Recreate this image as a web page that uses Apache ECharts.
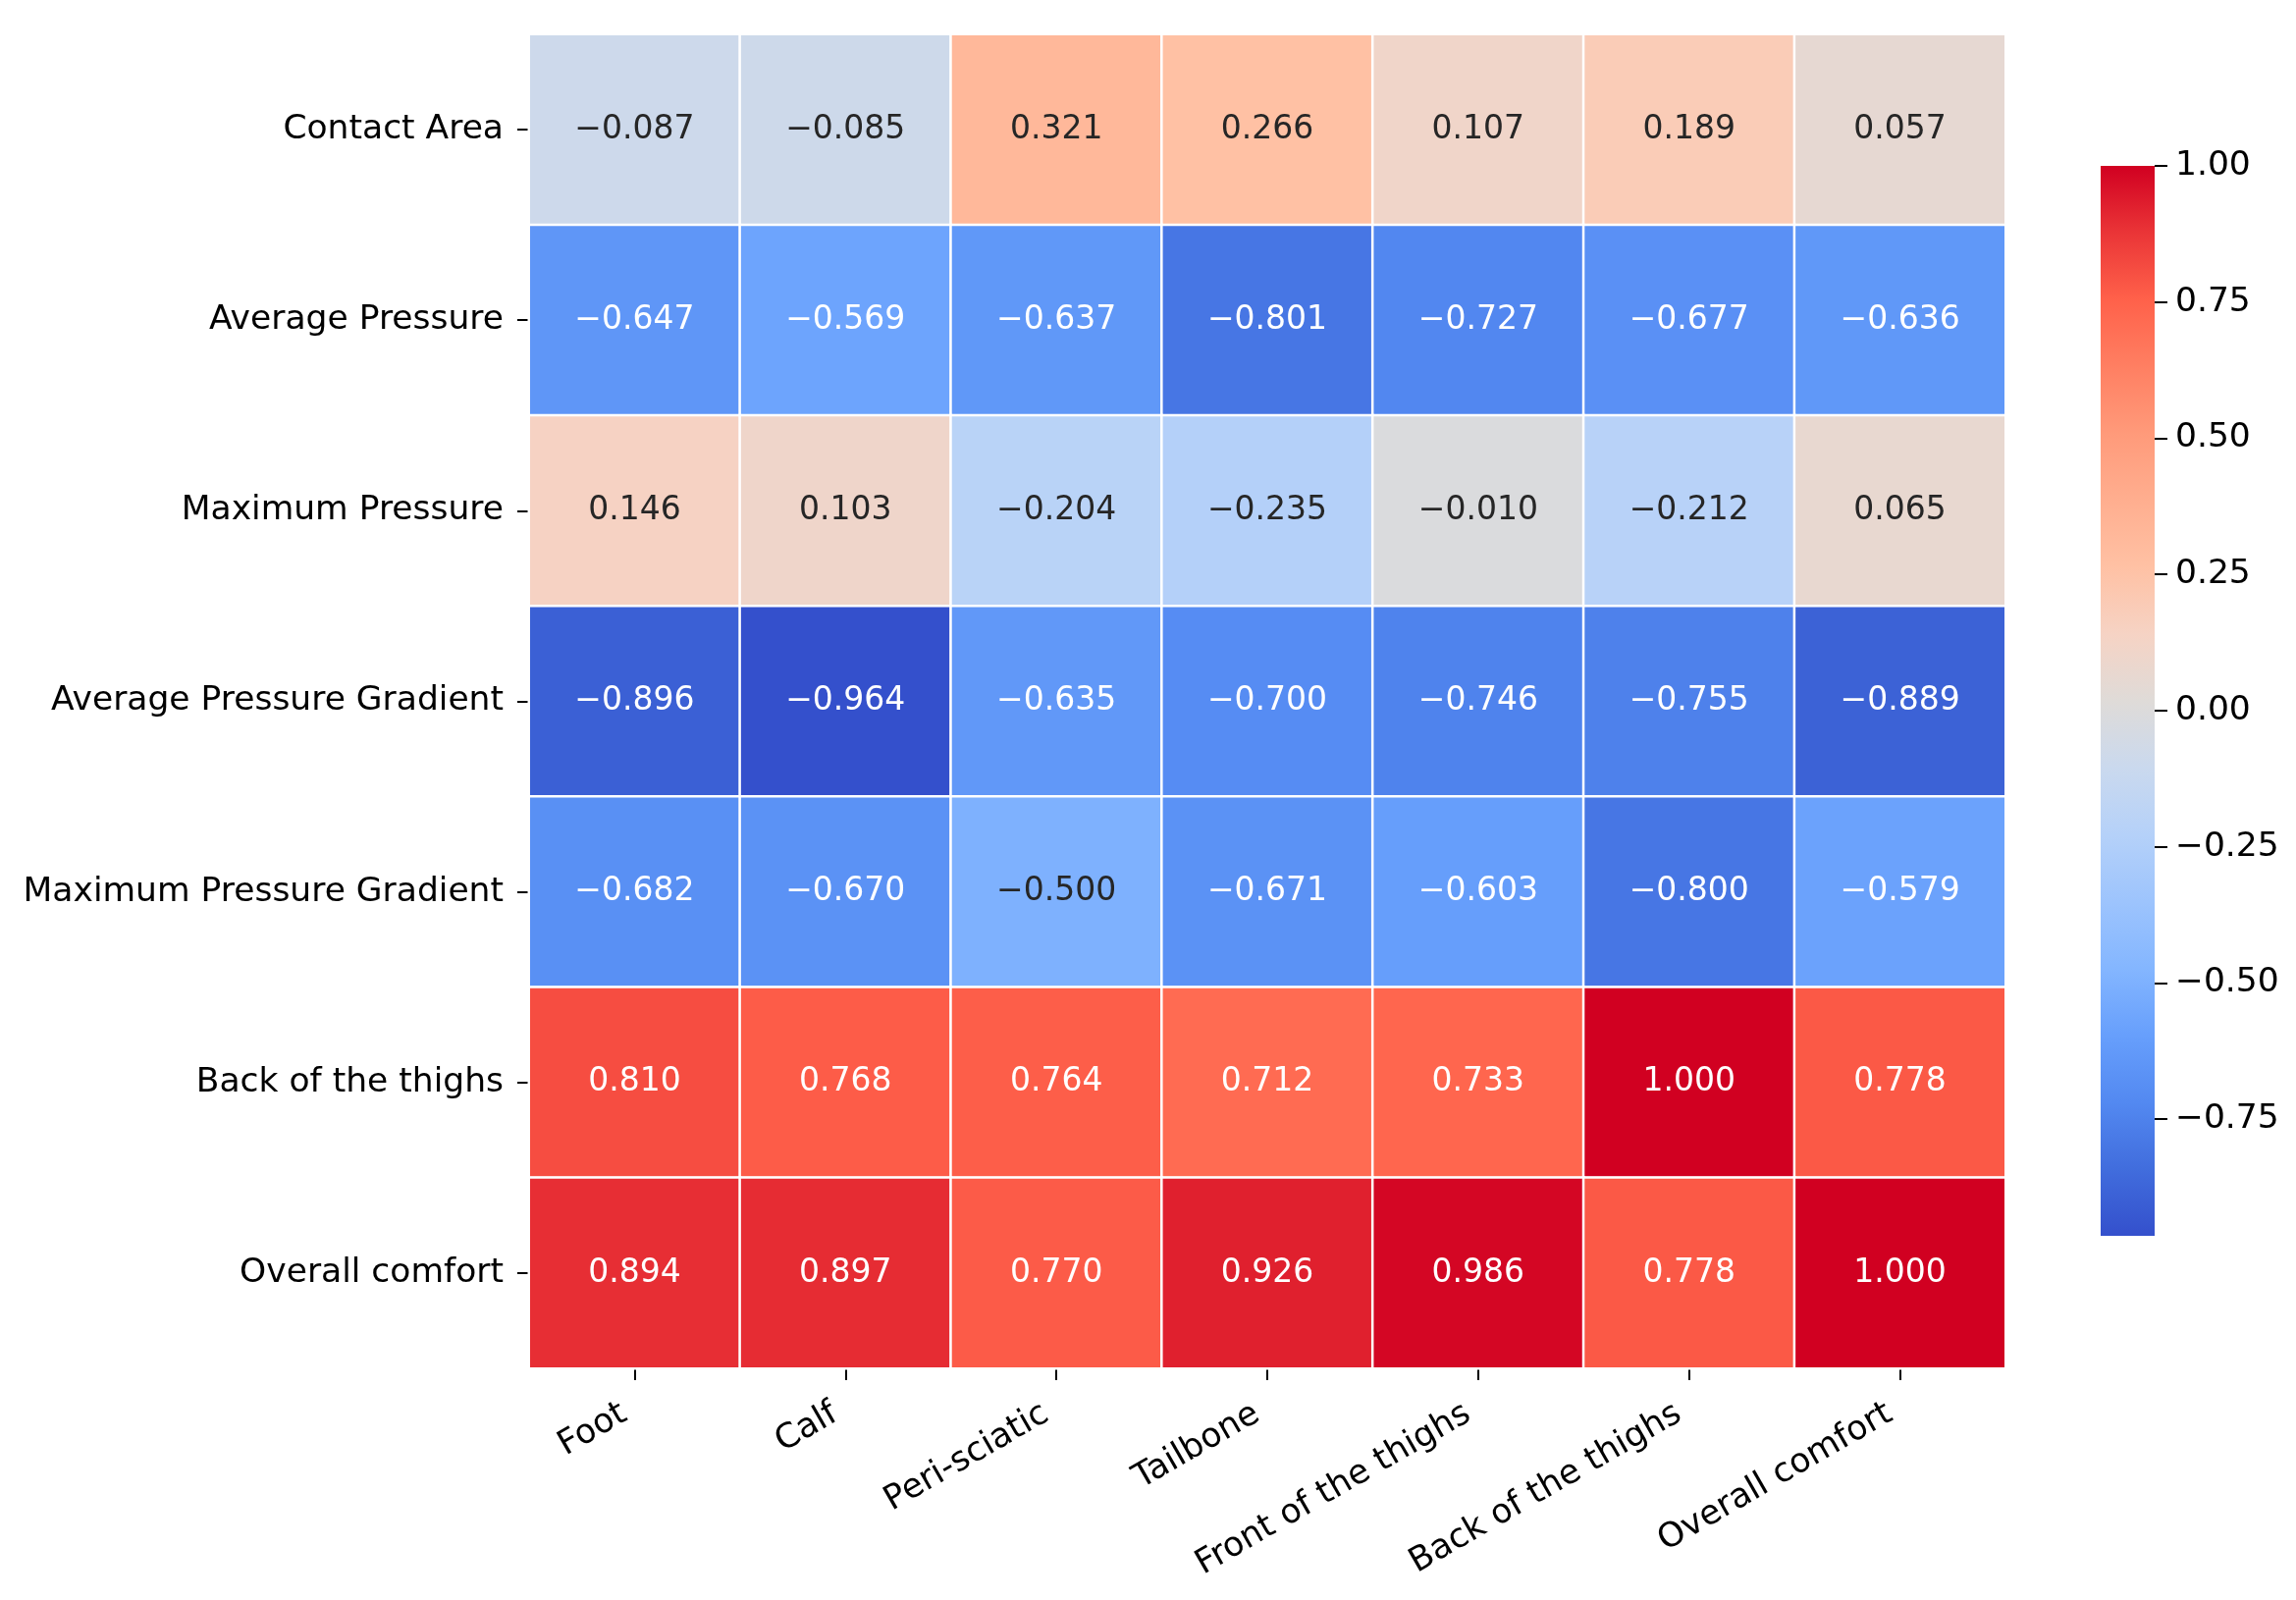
<!DOCTYPE html>
<html>
<head>
<meta charset="utf-8">
<script src="https://cdn.jsdelivr.net/npm/echarts@6/dist/echarts.min.js"></script>
<style>
html,body{margin:0;padding:0;background:#fff;}
#chart{width:2339px;height:1630px;}
</style>
</head>
<body>
<div id="chart"></div>
<script>
const colLabels = ['Foot','Calf','Peri-sciatic','Tailbone','Front of the thighs','Back of the thighs','Overall comfort'];
const rowLabels = ['Contact Area','Average Pressure','Maximum Pressure','Average Pressure Gradient','Maximum Pressure Gradient','Back of the thighs','Overall comfort'];

const rowContactArea     = [-0.087,-0.085, 0.321, 0.266, 0.107, 0.189, 0.057];
const rowAvgPressure     = [-0.647,-0.569,-0.637,-0.801,-0.727,-0.677,-0.636];
const rowMaxPressure     = [ 0.146, 0.103,-0.204,-0.235,-0.010,-0.212, 0.065];
const rowAvgGradient     = [-0.896,-0.964,-0.635,-0.700,-0.746,-0.755,-0.889];
const rowMaxGradient     = [-0.682,-0.670,-0.500,-0.671,-0.603,-0.800,-0.579];
const rowBackThighs      = [ 0.810, 0.768, 0.764, 0.712, 0.733, 1.000, 0.778];
const rowOverallComfort  = [ 0.894, 0.897, 0.770, 0.926, 0.986, 0.778, 1.000];

const colorbarTicks = [-0.75,-0.5,-0.25,0,0.25,0.5,0.75,1.0];

// colour ramp (low -> high), evenly spaced
const rampColors = ['#3450cc','#416ddd','#5389f1','#679ffc','#84b6ff','#9dc4fd','#b5d1f9','#cad9ee',
                    '#dfdbd8','#f6d3c4','#ffc1a4','#ffae8f','#ff9a7a','#ff7f62','#ff614a','#ea3537','#d10021'];

const matrix = [rowContactArea,rowAvgPressure,rowMaxPressure,rowAvgGradient,rowMaxGradient,rowBackThighs,rowOverallComfort];
const vmin = Math.min(...matrix.flat());
const vmax = Math.max(...matrix.flat());

const data = [];
matrix.forEach((row, r) => {
  row.forEach((v, c) => {
    const dark = (v <= -0.53 || v >= 0.5);
    data.push({ value: [c, r, v], label: { color: dark ? '#ffffff' : '#262626' } });
  });
});

const n = rampColors.length;
const barGradient = {
  type: 'linear', x: 0, y: 0, x2: 0, y2: 1,
  colorStops: rampColors.slice().reverse().map((c, i) => ({ offset: i / (n - 1), color: c }))
};

const fmtMinus = s => s.replace('-', '\u2212');
const FONT = 'DejaVu Sans';
const FS = 34.5;
const FS_ANN = 33;

const chart = echarts.init(document.getElementById('chart'), null, {renderer:'canvas'});
chart.setOption({
  backgroundColor: '#ffffff',
  animation: false,
  textStyle: { fontFamily: FONT },
  grid: [
    { left: 539, top: 35, width: 1504, height: 1359 },
    { left: 2140, top: 169, width: 55, height: 1090, show: true, backgroundColor: barGradient, borderWidth: 0 }
  ],
  xAxis: [
    {
      type: 'category', data: colLabels, gridIndex: 0, position: 'bottom',
      axisLine: { show: false },
      axisTick: { show: true, alignWithLabel: true, length: 12, lineStyle: { color: '#000', width: 2 } },
      axisLabel: { rotate: 30, margin: 38, padding: [0, 12, 0, 0], fontSize: FS, color: '#000', fontFamily: FONT, interval: 0 },
      splitLine: { show: false }
    },
    { type: 'category', data: [''], gridIndex: 1, show: false }
  ],
  yAxis: [
    {
      type: 'category', data: rowLabels, gridIndex: 0, inverse: true,
      axisLine: { show: false },
      axisTick: { show: true, alignWithLabel: true, length: 12, lineStyle: { color: '#000', width: 2 } },
      axisLabel: { margin: 26, fontSize: FS, color: '#000', fontFamily: FONT, interval: 0 },
      splitLine: { show: false }
    },
    {
      type: 'value', gridIndex: 1, position: 'right', min: vmin, max: vmax,
      axisLine: { show: false, onZero: false },
      splitLine: { show: false },
      axisTick: { show: true, inside: false, length: 13, customValues: colorbarTicks, lineStyle: { color: '#000', width: 2 } },
      axisLabel: { show: true, margin: 21, fontSize: FS, color: '#000', fontFamily: FONT,
        customValues: colorbarTicks,
        formatter: v => fmtMinus(Number(v).toFixed(2)) }
    }
  ],
  visualMap: {
    type: 'continuous',
    show: false,
    seriesIndex: 0,
    min: vmin, max: vmax,
    inRange: { color: rampColors }
  },
  series: [
    {
      type: 'heatmap',
      xAxisIndex: 0, yAxisIndex: 0,
      data: data,
      itemStyle: { borderColor: '#ffffff', borderWidth: 2.5 },
      label: {
        show: true, fontSize: FS_ANN, fontFamily: FONT,
        formatter: p => fmtMinus(p.value[2].toFixed(3))
      },
      emphasis: { disabled: true }
    }
  ]
});
</script>
</body>
</html>
